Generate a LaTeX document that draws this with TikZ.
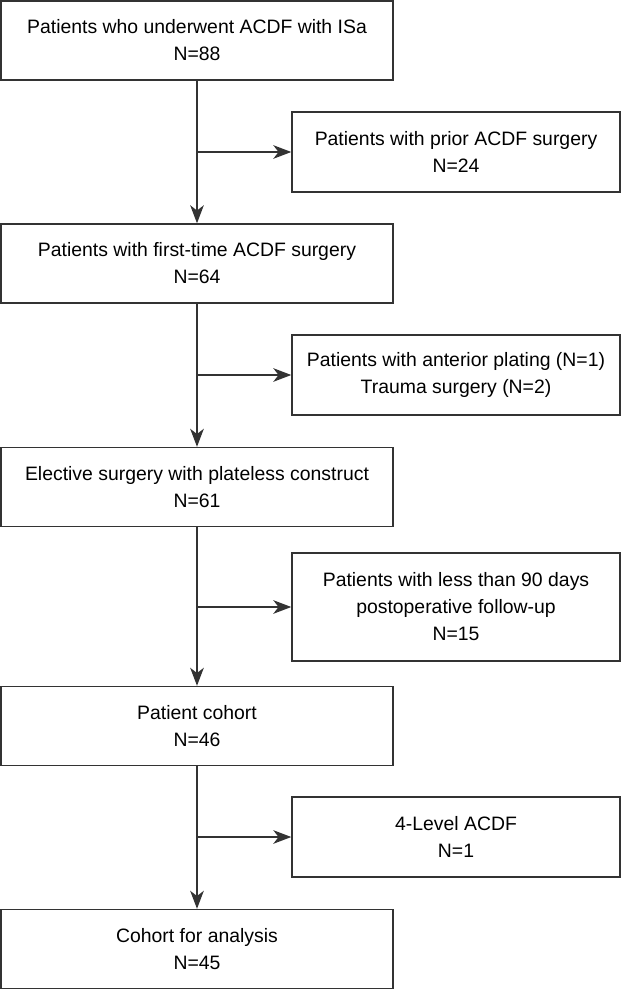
\documentclass[tikz,border=0pt]{standalone}
\usepackage{fontspec}
\setmainfont{Liberation Sans}
\usepackage{tikz}
\usetikzlibrary{arrows.meta}
\tikzset{
mainboxv1/.style={rectangle, draw=black!80,fill=none,line width=1pt, inner sep=0pt, align=center, minimum width= 9.8cm, minimum height = 1.975cm},
sideboxv1/.style={rectangle, draw=black!80,fill=none,line width=1pt, inner sep=0pt, align=center, minimum width= 8.2cm, minimum height = 2cm},
flowarrow/.style={draw=black!80, line width=1pt, -{Stealth[length=0.45cm,width=0.34cm,inset=0.13cm]}},
}

\begin{document}
\begin{tikzpicture}[font=\fontsize{13.8}{19.2}\selectfont]
    \useasboundingbox (0,0) rectangle (15.55,-24.75);
    \node[mainboxv1] at (4.925,-1.0125) (start) {Patients who underwent ACDF with ISa\\N=88};
    \node[sideboxv1] at (11.4,-3.8) (prior) {Patients with prior ACDF surgery\\N=24};
    \node[mainboxv1] at (4.925,-6.5875) (first) {Patients with first-time ACDF surgery\\N=64};
    \node[sideboxv1] at (11.4,-9.375) (plating) {Patients with anterior plating (N=1)\\Trauma surgery (N=2)};
    \node[mainboxv1] at (4.925,-12.175) (elective) {Elective surgery with plateless construct\\N=61};
    \node[sideboxv1, minimum height = 2.7cm] at (11.4,-15.175) (followup) {Patients with less than 90 days\\postoperative follow-up\\N=15};
    \node[mainboxv1] at (4.925,-18.15) (cohort) {Patient cohort\\N=46};
    \node[sideboxv1] at (11.4,-20.925) (level) {4-Level ACDF\\N=1};
    \node[mainboxv1] at (4.925,-23.725) (analysis) {Cohort for analysis\\N=45};
    \draw[flowarrow] (start) to (first);
    \draw[flowarrow] (start.south |- prior.west) to (prior.west);
    \draw[flowarrow] (first) to (elective);
    \draw[flowarrow] (first.south |- plating.west) to (plating.west);
    \draw[flowarrow] (elective) to (cohort);
    \draw[flowarrow] (elective.south |- followup.west) to (followup.west);
    \draw[flowarrow] (cohort) to (analysis);
    \draw[flowarrow] (cohort.south |- level.west) to (level.west);
\end{tikzpicture}
\end{document}
